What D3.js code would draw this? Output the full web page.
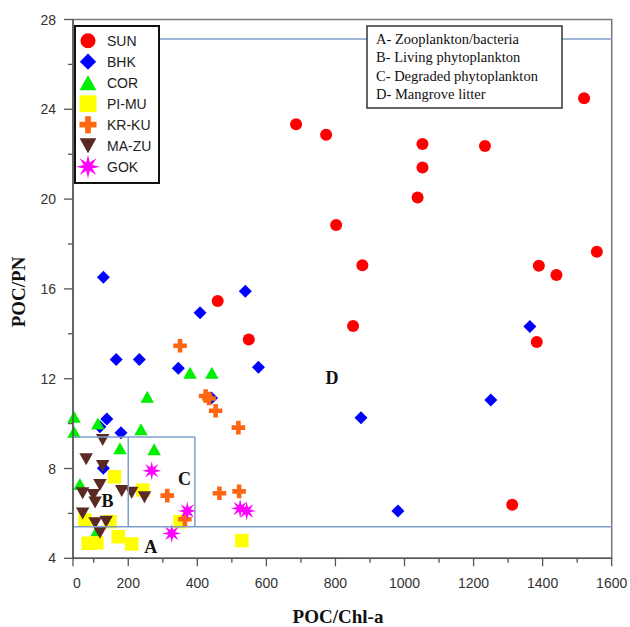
<!DOCTYPE html>
<html>
<head>
<meta charset="utf-8">
<script src="https://cdn.jsdelivr.net/npm/d3@7"></script>
<style>
  html, body { margin: 0; padding: 0; background: #fff; }
  svg { display: block; }
</style>
</head>
<body>
<svg id="chart" width="630" height="627"></svg>
<script>
// ---- data: POC/Chl-a (x) against POC/PN (y) for each site ----
const sunX  = [686, 773, 802, 878, 851, 459, 549, 1052, 1233, 1052, 1038, 1520, 1557, 1389, 1440, 1383, 1312];
const sunY  = [23.33, 22.87, 18.85, 17.05, 14.35, 15.46, 13.75, 22.45, 22.37, 21.41, 20.07, 24.49, 17.66, 17.03, 16.62, 13.63, 6.39];

const bhkX  = [128, 165, 232, 408, 539, 345, 577, 441, 138, 118, 179, 128, 874, 981, 1363, 1250];
const bhkY  = [16.52, 12.86, 12.86, 14.94, 15.89, 12.46, 12.51, 11.14, 10.2, 9.86, 9.59, 8.01, 10.26, 6.11, 14.32, 11.05];

const corX  = [379, 442, 255, 43, 43, 112, 237, 176, 275, 60, 106];
const corY  = [12.27, 12.27, 11.2, 10.31, 9.64, 10.01, 9.75, 8.9, 8.86, 7.31, 5.14];

const pimuX = [160, 242, 75, 147, 84, 109, 171, 210, 350, 529];
const pimuY = [7.63, 7.04, 5.71, 5.63, 4.67, 4.69, 4.96, 4.64, 5.63, 4.79];

const krkuX = [350, 424, 434, 453, 519, 313, 464, 521, 364];
const krkuY = [13.47, 11.23, 11.12, 10.57, 9.82, 6.79, 6.9, 6.98, 5.74];

const mazuX = [126, 78, 126, 118, 68, 99, 104, 181, 210, 247, 68, 104, 136, 118];
const mazuY = [9.27, 8.41, 8.11, 7.27, 6.9, 6.82, 6.48, 7.0, 6.92, 6.72, 6.0, 5.56, 5.63, 5.14];

const gokX  = [268, 371, 326, 524, 543];
const gokY  = [7.9, 6.11, 5.11, 6.22, 6.11];

const seriesNames = ["SUN", "BHK", "COR", "PI-MU", "KR-KU", "MA-ZU", "GOK"];

// ---- axes ----
const xDomain = [40, 1600];
const yDomain = [4, 28];
const xMajorTicks = [0, 200, 400, 600, 800, 1000, 1200, 1400, 1600];
const xTickLabels = ["0", "200", "400", "600", "800", "1000", "1200", "1400", "1600"];
const xMinorTicks = [100, 300, 500, 700, 900, 1100, 1300, 1500];
const yMajorTicks = [4, 8, 12, 16, 20, 24, 28];
const yMinorTicks = [6, 10, 14, 18, 22, 26];

// ---- source-region boundaries (POC/Chl-a, POC/PN) ----
const boundaryLines = [
  { x1: 40,  y1: 27.13, x2: 1600, y2: 27.13 },
  { x1: 40,  y1: 5.4,   x2: 1600, y2: 5.4 },
  { x1: 40,  y1: 9.4,   x2: 393,  y2: 9.4 },
  { x1: 200, y1: 5.4,   x2: 200,  y2: 9.4 },
  { x1: 393, y1: 5.4,   x2: 393,  y2: 9.4 }
];
const regionLetters = ["A", "B", "C", "D"];
const regionX = [265, 140, 363, 790];
const regionY = [4.5, 6.55, 7.55, 12.05];
const regionKey = [
  "A- Zooplankton/bacteria",
  "B- Living phytoplankton",
  "C- Degraded phytoplankton",
  "D- Mangrove litter"
];

const svg = d3.select("#chart");
const x = d3.scaleLinear().domain(xDomain).range([73, 611.7]);
const y = d3.scaleLinear().domain(yDomain).range([558.3, 19.5]);
const xc = x.copy().clamp(true);

const axisColor = "#555";
const sansFont = "'Liberation Sans', Arial, sans-serif";
const serifFont = "'Liberation Serif', 'Times New Roman', serif";

// marker path generators, each centred on (0,0)
const shapes = {
  circle: r => `M${-r},0A${r},${r} 0 1,0 ${r},0A${r},${r} 0 1,0 ${-r},0Z`,
  diamond: r => `M0,${-r}L${r},0L0,${r}L${-r},0Z`,
  triUp: (w, h) => `M0,${-h / 2}L${w / 2},${h / 2}L${-w / 2},${h / 2}Z`,
  triDown: (w, h) => `M0,${h / 2}L${w / 2},${-h / 2}L${-w / 2},${-h / 2}Z`,
  square: s => `M${-s / 2},${-s / 2}h${s}v${s}h${-s}Z`,
  cross: (a, t) => {
    const h = t / 2;
    return `M${-h},${-a}H${h}V${-h}H${a}V${h}H${h}V${a}H${-h}V${h}H${-a}V${-h}H${-h}Z`;
  },
  star: (ro, ri, n) => {
    let p = "";
    for (let i = 0; i < 2 * n; i++) {
      const ang = Math.PI * i / n - Math.PI / 2;
      const rr = i % 2 === 0 ? ro : ri;
      p += (i === 0 ? "M" : "L") + (rr * Math.cos(ang)).toFixed(2) + "," + (rr * Math.sin(ang)).toFixed(2);
    }
    return p + "Z";
  }
};

const series = [
  { name: seriesNames[0], xs: sunX,  ys: sunY,  color: "#ff0000", mark: k => shapes.circle(6 * k) },
  { name: seriesNames[1], xs: bhkX,  ys: bhkY,  color: "#0000ff", mark: k => shapes.diamond(6.5 * k) },
  { name: seriesNames[2], xs: corX,  ys: corY,  color: "#00ee00", mark: k => shapes.triUp(13.5 * k, 12 * k) },
  { name: seriesNames[3], xs: pimuX, ys: pimuY, color: "#ffff00", mark: k => shapes.square(13.5 * k) },
  { name: seriesNames[4], xs: krkuX, ys: krkuY, color: "#ff6611", mark: k => shapes.cross(6.8 * k, 4.6 * k) },
  { name: seriesNames[5], xs: mazuX, ys: mazuY, color: "#5a2a22", mark: k => shapes.triDown(13.5 * k, 12 * k) },
  { name: seriesNames[6], xs: gokX,  ys: gokY,  color: "#ff00ff", mark: k => shapes.star(9.5 * k, 3.6 * k, 8) }
];

// ---- plot frame ----
svg.append("rect")
  .attr("x", x(xDomain[0])).attr("y", y(yDomain[1]))
  .attr("width", x(xDomain[1]) - x(xDomain[0]))
  .attr("height", y(yDomain[0]) - y(yDomain[1]))
  .attr("fill", "none").attr("stroke", "#777").attr("stroke-width", 1.5);

// ---- markers ----
series.forEach(s => {
  svg.append("g").selectAll("path")
    .data(s.xs.map((v, i) => [v, s.ys[i]]))
    .join("path")
    .attr("d", s.mark(1))
    .attr("transform", d => `translate(${x(d[0])},${y(d[1])})`)
    .attr("fill", s.color);
});

// ---- region boundaries ----
svg.append("g").selectAll("line")
  .data(boundaryLines)
  .join("line")
  .attr("x1", d => x(d.x1)).attr("y1", d => y(d.y1))
  .attr("x2", d => x(d.x2)).attr("y2", d => y(d.y2))
  .attr("stroke", "#7f9dcc").attr("stroke-width", 1.5);

// region letters
svg.append("g").selectAll("text")
  .data(regionLetters)
  .join("text")
  .attr("x", (d, i) => x(regionX[i]))
  .attr("y", (d, i) => y(regionY[i]))
  .attr("text-anchor", "middle")
  .attr("dominant-baseline", "central")
  .attr("font-family", serifFont).attr("font-weight", "bold").attr("font-size", 18)
  .attr("fill", "#111")
  .text(d => d);

// ---- x axis ----
const gx = svg.append("g").attr("transform", `translate(0,${y(yDomain[0])})`);
gx.append("line").attr("x1", x(xDomain[0])).attr("x2", x(xDomain[1]))
  .attr("stroke", axisColor).attr("stroke-width", 1.5);
gx.selectAll("line.maj").data(xMajorTicks).join("line").attr("class", "maj")
  .attr("x1", d => xc(d)).attr("x2", d => xc(d)).attr("y1", 0).attr("y2", 8)
  .attr("stroke", axisColor).attr("stroke-width", 1.3);
gx.selectAll("line.min").data(xMinorTicks).join("line").attr("class", "min")
  .attr("x1", d => x(d)).attr("x2", d => x(d)).attr("y1", 0).attr("y2", 4.5)
  .attr("stroke", axisColor).attr("stroke-width", 1.3);
gx.selectAll("text").data(xMajorTicks).join("text")
  .attr("x", (d, i) => xc(d) + (i === 0 ? 4 : 0)).attr("y", 30)
  .attr("text-anchor", "middle")
  .attr("font-family", sansFont).attr("font-size", 14).attr("fill", "#333")
  .text((d, i) => xTickLabels[i]);

// ---- y axis ----
const gy = svg.append("g").attr("transform", `translate(${x(xDomain[0])},0)`);
gy.append("line").attr("y1", y(yDomain[0])).attr("y2", y(yDomain[1]))
  .attr("stroke", axisColor).attr("stroke-width", 1.5);
gy.selectAll("line.maj").data(yMajorTicks).join("line").attr("class", "maj")
  .attr("y1", d => y(d)).attr("y2", d => y(d)).attr("x1", 0).attr("x2", -9)
  .attr("stroke", axisColor).attr("stroke-width", 1.3);
gy.selectAll("line.min").data(yMinorTicks).join("line").attr("class", "min")
  .attr("y1", d => y(d)).attr("y2", d => y(d)).attr("x1", 0).attr("x2", -5)
  .attr("stroke", axisColor).attr("stroke-width", 1.3);
gy.selectAll("text").data(yMajorTicks).join("text")
  .attr("x", -17).attr("y", d => y(d))
  .attr("text-anchor", "end").attr("dominant-baseline", "central")
  .attr("font-family", sansFont).attr("font-size", 14).attr("fill", "#333")
  .text(d => d);

// axis titles
svg.append("text")
  .attr("x", 338).attr("y", 623)
  .attr("text-anchor", "middle")
  .attr("font-family", serifFont).attr("font-weight", "bold").attr("font-size", 19)
  .attr("fill", "#111")
  .text("POC/Chl-a");
svg.append("text")
  .attr("transform", "translate(25,292) rotate(-90)")
  .attr("text-anchor", "middle")
  .attr("font-family", serifFont).attr("font-weight", "bold").attr("font-size", 19)
  .attr("fill", "#111")
  .text("POC/PN");

// ---- legend ----
const lg = svg.append("g");
lg.append("rect").attr("x", 75).attr("y", 26).attr("width", 84).attr("height", 157)
  .attr("fill", "#fff").attr("stroke", "#111").attr("stroke-width", 2);
lg.selectAll("g").data(series).join("g")
  .attr("transform", (d, i) => `translate(88,${40.7 + i * 21})`)
  .each(function (d) {
    const g = d3.select(this);
    g.append("path").attr("d", d.mark(1.25)).attr("fill", d.color);
    g.append("text").attr("x", 19).attr("y", 0).attr("dominant-baseline", "central")
      .attr("font-family", sansFont).attr("font-size", 14).attr("fill", "#222")
      .text(d.name);
  });

// ---- region key ----
const kg = svg.append("g");
kg.append("rect").attr("x", 367).attr("y", 26).attr("width", 195).attr("height", 82)
  .attr("fill", "#fff").attr("stroke", "#333").attr("stroke-width", 1.5);
kg.selectAll("text").data(regionKey).join("text")
  .attr("x", 376).attr("y", (d, i) => 44 + i * 18.3)
  .attr("font-family", serifFont).attr("font-size", 14.5).attr("fill", "#111")
  .text(d => d);
</script>
</body>
</html>
